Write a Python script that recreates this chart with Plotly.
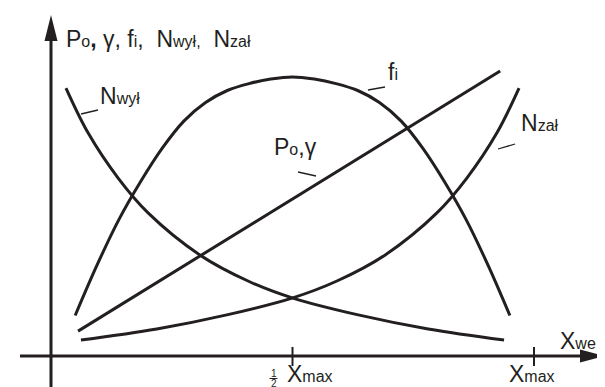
import plotly.graph_objects as go

# ---- data (x in units of X_max, y in relative units) ----
x_line = [0.056, 0.930]
p0_gamma = [0.083, 0.950]

x_fi = [0.05, 0.095, 0.14, 0.185, 0.23, 0.275, 0.32, 0.365, 0.41, 0.455, 0.5,
        0.545, 0.59, 0.635, 0.68, 0.725, 0.77, 0.815, 0.86, 0.905, 0.95]
fi = [0.135, 0.302, 0.453, 0.580, 0.692, 0.783, 0.845, 0.885, 0.908, 0.923, 0.930,
      0.923, 0.908, 0.885, 0.845, 0.783, 0.692, 0.580, 0.453, 0.302, 0.135]

x_nwyl = [0.031, 0.077, 0.139, 0.201, 0.308, 0.408, 0.501, 0.636, 0.781, 0.938]
n_wyl = [0.893, 0.743, 0.593, 0.477, 0.337, 0.250, 0.193, 0.137, 0.090, 0.053]

x_nzal = [0.062, 0.219, 0.364, 0.499, 0.592, 0.692, 0.799, 0.861, 0.923, 0.969]
n_zal = [0.053, 0.090, 0.137, 0.193, 0.250, 0.337, 0.477, 0.593, 0.743, 0.893]

tick_vals = [0.5, 1.0]

W, H = 605, 387
INK = "#231f20"
FONT = "Liberation Sans, Arial, sans-serif"
SMALL = '<span style="font-size:16px">{}</span>'


def px(x):
    return x / W


def py(y):
    return 1 - y / H


fig = go.Figure()
for xs, ys in [(x_fi, fi), (x_line, p0_gamma), (x_nwyl, n_wyl), (x_nzal, n_zal)]:
    fig.add_trace(go.Scatter(x=xs, y=ys, mode="lines",
                             line=dict(color=INK, width=3, shape="spline", smoothing=1.0),
                             hoverinfo="skip", showlegend=False))

shapes = []
# axes
shapes.append(dict(type="line", xref="paper", yref="paper", x0=px(43), x1=px(43),
                   y0=py(387), y1=py(28), line=dict(color=INK, width=3)))
shapes.append(dict(type="line", xref="paper", yref="paper", x0=px(12), x1=px(578),
                   y0=py(348), y1=py(348), line=dict(color=INK, width=3)))
# arrow heads
shapes.append(dict(type="path", xref="paper", yref="paper", fillcolor=INK, line=dict(width=0),
                   path=f"M {px(43)} {py(7)} L {px(49.5)} {py(33)} L {px(36.5)} {py(33)} Z"))
shapes.append(dict(type="path", xref="paper", yref="paper", fillcolor=INK, line=dict(width=0),
                   path=f"M {px(597)} {py(348)} L {px(572)} {py(341.5)} L {px(572)} {py(354.5)} Z"))
# ticks
for tv in tick_vals:
    shapes.append(dict(type="line", xref="x", yref="paper", x0=tv, x1=tv,
                       y0=py(339), y1=py(358), line=dict(color=INK, width=2)))
# leader lines for labels
for (a, b, c, d) in [(73, 106, 90, 102), (360, 82, 377, 79), (290, 164, 308, 168), (490, 141, 507, 136)]:
    shapes.append(dict(type="line", xref="paper", yref="paper", x0=px(a), x1=px(c),
                       y0=py(b), y1=py(d), line=dict(color=INK, width=1.3)))
# fraction bar for 1/2
shapes.append(dict(type="line", xref="paper", yref="paper", x0=px(261.5), x1=px(269.5),
                   y0=py(370.5), y1=py(370.5), line=dict(color=INK, width=1)))

ann = []


def label(x, y, text, size=23, anchor="left"):
    ann.append(dict(xref="paper", yref="paper", x=px(x), y=py(y), text=text, showarrow=False,
                    xanchor=anchor, yanchor="middle", borderpad=0,
                    font=dict(family=FONT, size=size, color=INK)))


label(57, 31, "P" + SMALL.format("o") + "<b>,</b> γ, f" + SMALL.format("i") + ",  N"
      + SMALL.format("wył,") + "  N" + SMALL.format("zał"))
label(91, 88, "N" + SMALL.format("wył"))
label(379, 64, "f" + SMALL.format("i"))
label(265, 139, "P" + SMALL.format("o") + ",γ")
label(512, 115, "N" + SMALL.format("zał"))
label(551, 333, "X" + SMALL.format("we"))
label(278, 366, "X" + SMALL.format("max"))
label(500, 366, "X" + SMALL.format("max"))
label(265.5, 365, "1", size=10, anchor="center")
label(265.5, 375.5, "2", size=10, anchor="center")

fig.update_layout(
    width=W, height=H, margin=dict(l=0, r=0, t=0, b=0, pad=0),
    paper_bgcolor="white", plot_bgcolor="white",
    xaxis=dict(range=[-43 / 483, 562 / 483], visible=False, fixedrange=True),
    yaxis=dict(range=[-39 / 300, 348 / 300], visible=False, fixedrange=True),
    shapes=shapes, annotations=ann, showlegend=False,
)
fig.write_html("out.html")
